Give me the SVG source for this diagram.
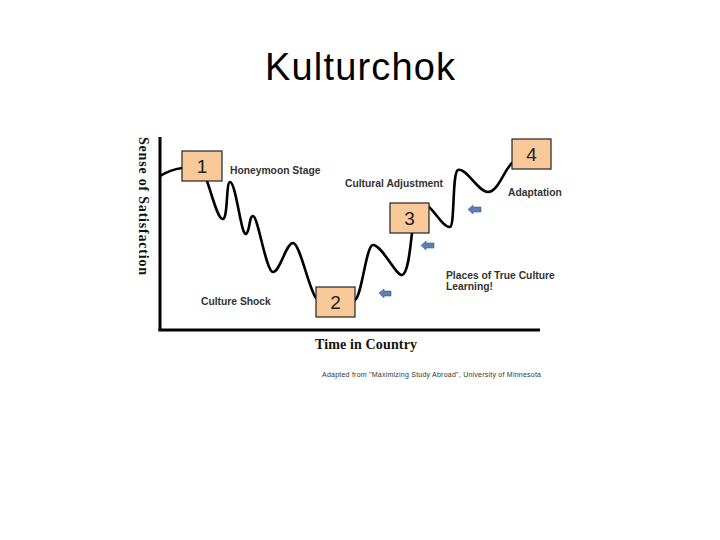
<svg xmlns="http://www.w3.org/2000/svg" width="720" height="540" viewBox="0 0 720 540">
<style>
.box{fill:#F9C99A;stroke:#222;stroke-width:1.2}
.num{font-family:"Liberation Sans",Arial,sans-serif;font-size:19px;fill:#222;text-anchor:middle}
.lbl{font-family:"Liberation Sans",Arial,sans-serif;font-size:10.3px;font-weight:bold;fill:#333}
.ax{font-family:"Liberation Serif","Times New Roman",serif;font-size:14px;font-weight:bold;fill:#111}
.curve{fill:none;stroke:#000;stroke-width:2.6;stroke-linecap:round}
.arr{fill:#5A80B4;stroke:#3F5F8C;stroke-width:0.6}
</style>
<rect width="720" height="540" fill="#fff"/>
<text x="360" y="80" font-family="'Liberation Sans',Arial,sans-serif" font-size="38" text-anchor="middle" fill="#000" textLength="190">Kulturchok</text>
<g id="axes">
<line x1="160" y1="137" x2="160" y2="331" stroke="#000" stroke-width="3"/>
<line x1="158.5" y1="330" x2="540" y2="330" stroke="#000" stroke-width="3"/>
<text class="ax" transform="translate(139,206) rotate(90)" text-anchor="middle" textLength="138">Sense of Satisfaction</text>
<text class="ax" x="366" y="349" text-anchor="middle" textLength="102">Time in Country</text>
<text x="541" y="377" font-family="'Liberation Sans',Arial,sans-serif" font-size="7" fill="#333" text-anchor="end" textLength="219">Adapted from "Maximizing Study Abroad", University of Minnesota</text>
</g>
<g id="connectors">
<path class="curve" d="M160,176 C168,171 175,169 182,168"/>
<path class="curve" d="M207,181 C212,195 218,220 223,219 C228,218 226,182 230,182 C236,182 241,236 246,234 C250,232 249,216 253,216 C258,216 266,272 273,272 C280,272 286,243 293,243 C300,243 309,290 316,298"/>
<path class="curve" d="M355,300 C362,296 366,245 373,245 C382,245 396,276 402,275 C408,274 410,250 412,233"/>
<path class="curve" d="M429,207 C436,213 444,228 450,227 C455,226 452,172 458,170 C466,167 478,192 488,192 C498,192 504,170 512,163"/>
</g>
<g id="node1"><rect class="box" x="182" y="151" width="40" height="30"/><text class="num" x="202" y="173">1</text></g>
<g id="node2"><rect class="box" x="316" y="287" width="39" height="30"/><text class="num" x="335.5" y="309">2</text></g>
<g id="node3"><rect class="box" x="390" y="203" width="39" height="30"/><text class="num" x="409.5" y="225">3</text></g>
<g id="node4"><rect class="box" x="512" y="139" width="39" height="30"/><text class="num" x="531.5" y="161">4</text></g>
<g id="labels">
<text class="lbl" x="230" y="174">Honeymoon Stage</text>
<text class="lbl" x="345" y="187">Cultural Adjustment</text>
<text class="lbl" x="508" y="196">Adaptation</text>
<text class="lbl" x="446" y="279">Places of True Culture</text>
<text class="lbl" x="446" y="290">Learning!</text>
<text class="lbl" x="201" y="305">Culture Shock</text>
</g>
<g id="arrows">
<polygon class="arr" points="379,293 384,289 384,291 391,291 391,296 384,296 384,298"/>
<polygon class="arr" points="421,245.5 426,241 426,243 434,243 434,248 426,248 426,250"/>
<polygon class="arr" points="468,209.5 473,205 473,207 481,207 481,212 473,212 473,214"/>
</g>
</svg>
